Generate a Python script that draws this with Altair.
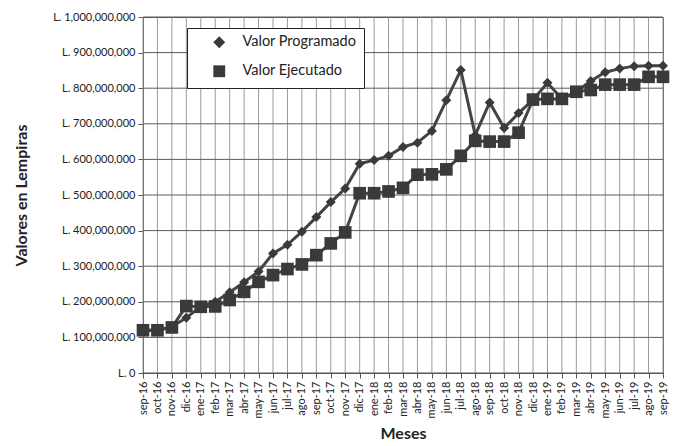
import altair as alt
import pandas as pd

months = ["sep-16", "oct-16", "nov-16", "dic-16", "ene-17", "feb-17", "mar-17", "abr-17",
          "may-17", "jun-17", "jul-17", "ago-17", "sep-17", "oct-17", "nov-17", "dic-17",
          "ene-18", "feb-18", "mar-18", "abr-18", "may-18", "jun-18", "jul-18", "ago-18",
          "sep-18", "oct-18", "nov-18", "dic-18", "ene-19", "feb-19", "mar-19", "abr-19",
          "may-19", "jun-19", "jul-19", "ago-19", "sep-19"]

# values in millions of Lempiras
programado = [120, 120, 130, 155, 187, 200, 227, 255, 285, 336, 360, 397, 438, 480, 518, 588,
              598, 610, 635, 647, 680, 766, 851, 668, 760, 688, 730, 767, 815, 770, 790, 820,
              845, 855, 862, 863, 863]
ejecutado = [120, 120, 128, 188, 186, 187, 205, 228, 256, 275, 292, 305, 331, 364, 395, 505,
             505, 510, 520, 557, 558, 572, 610, 652, 650, 650, 675, 768, 770, 770, 790, 795,
             810, 810, 810, 832, 832]

series = ["Valor Programado", "Valor Ejecutado"]
y_ticks = [0, 100e6, 200e6, 300e6, 400e6, 500e6, 600e6, 700e6, 800e6, 900e6, 1000e6]

rows = []
for name, vals in zip(series, [programado, ejecutado]):
    for m, v in zip(months, vals):
        rows.append({"Mes": m, "Valor": v * 1e6, "Serie": name})
df = pd.DataFrame(rows)

FONT = "Lato"
DARK = "#3a3a3a"

x_enc = alt.X("Mes:N", sort=months, scale=alt.Scale(type="point", padding=0),
              axis=alt.Axis(title="Meses", labelAngle=270, labelFontSize=11,
                            labelColor="#222", labelPadding=3, tickSize=5,
                            titleFontSize=16, titleFontWeight="bold", titlePadding=8,
                            titleColor="#222", grid=False))
y_enc = alt.Y("Valor:Q", scale=alt.Scale(domain=[0, 1e9], nice=False),
              axis=alt.Axis(title="Valores en Lempiras", values=y_ticks,
                            labelExpr="'L. ' + format(datum.value, ',')",
                            labelFontSize=11, labelColor="#222", labelPadding=3, tickSize=5,
                            titleFontSize=16, titleFontWeight="bold", titleColor="#222",
                            titlePadding=23, grid=False))

base = alt.Chart(df)

vgrid = alt.Chart(pd.DataFrame({"Mes": months})).mark_rule(
    color="#9a9a9a", strokeWidth=1).encode(x=x_enc)
hgrid = alt.Chart(pd.DataFrame({"Valor": y_ticks})).mark_rule(
    color="#5a5a5a", strokeWidth=1).encode(y=y_enc)

lines = base.mark_line(color="#444444", strokeWidth=3).encode(
    x=x_enc, y=y_enc, detail="Serie:N")

diamonds = base.transform_filter(alt.datum.Serie == series[0]).mark_point(
    filled=True, color=DARK, opacity=1, shape="diamond", size=100).encode(x=x_enc, y=y_enc)

squares = base.transform_filter(alt.datum.Serie == series[1]).mark_point(
    filled=True, color=DARK, opacity=1, shape="square", size=160).encode(x=x_enc, y=y_enc)

legend_layer = base.transform_filter("false").mark_point(filled=True, color=DARK).encode(
    x=x_enc, y=y_enc,
    shape=alt.Shape("Serie:N", scale=alt.Scale(domain=series, range=["diamond", "square"]),
                    legend=alt.Legend(title=None, orient="none", legendX=44, legendY=11,
                                      fillColor="white", strokeColor="#222",
                                      padding=7, rowPadding=10,
                                      labelFontSize=14.5, labelFont=FONT, labelColor="#222",
                                      labelExpr="datum.label + '\u00a0\u00a0\u00a0\u00a0'",
                                      symbolSize=140, symbolOffset=18, labelOffset=16,
                                      symbolFillColor=DARK, symbolStrokeColor=DARK,
                                      symbolOpacity=1)),
)

chart = alt.layer(vgrid, hgrid, lines, diamonds, squares, legend_layer).properties(
    width=520, height=356,
    autosize=alt.AutoSizeParams(type="none"),
    padding={"left": 135, "top": 9, "right": 7, "bottom": 70},
).configure(font=FONT).configure_view(stroke="#555").configure_axis(
    labelFont=FONT, titleFont=FONT, domainColor="#555", tickColor="#555")

chart.save("out.html", embed_options={"renderer": "svg", "actions": False})
